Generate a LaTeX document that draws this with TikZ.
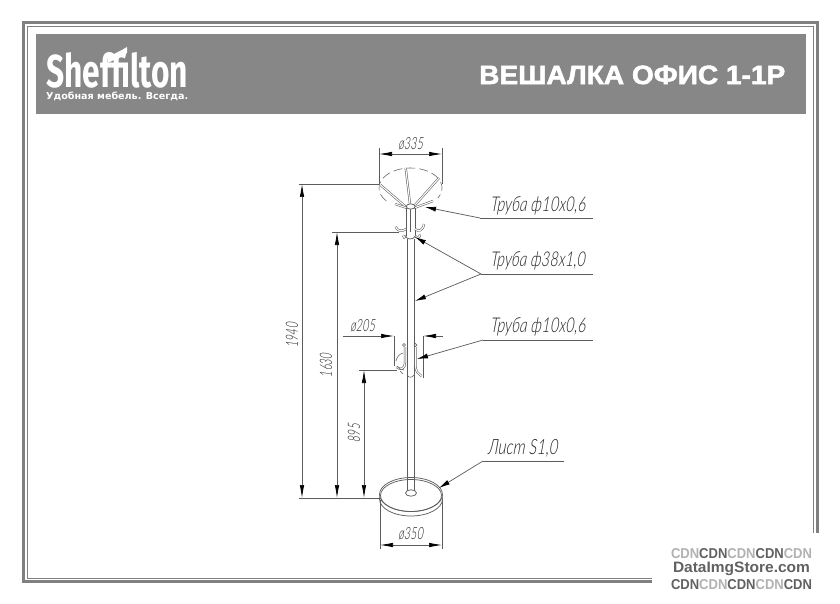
\documentclass[tikz,border=0pt]{standalone}
\usepackage{graphicx}
\usepackage{fontspec}
\setmainfont{Liberation Sans}
\newfontfamily\gostf[FakeSlant=0.12]{Lato Light Italic}
\newfontfamily\logof{Fira Sans}
\newfontfamily\tagf{DejaVu Sans}
\newfontfamily\ttlf[FakeBold=2]{Liberation Sans Bold}
\usetikzlibrary{arrows.meta}
\definecolor{hdr}{gray}{0.53}
\definecolor{frm}{gray}{0.5}
\definecolor{ink}{gray}{0.36}
\definecolor{wmd}{gray}{0.38}
\definecolor{wml}{gray}{0.70}
\newcommand{\gost}[3]{\resizebox{#1pt}{#2pt}{\gostf #3}}
\tikzset{
  x=1pt,y=-1pt,
  inkline/.style={draw=ink,line width=0.72pt},
  thin line/.style={draw=ink,line width=0.55pt},
  tube/.style={draw=ink,line width=0.55pt,double=white,double distance=1.1pt},
  dimtip/.style={inkline,-{Latex[length=13pt,width=4.5pt,black]}},
  leadertip/.style={inkline,-{Latex[length=11pt,width=5pt,black]}},
  label/.style={inner sep=0pt,outer sep=0pt,text=black!85},
  dashedarc/.style={draw=ink,line width=0.55pt,dash pattern=on 9pt off 4pt}
}
\begin{document}
\begin{tikzpicture}
\useasboundingbox (0,0) rectangle (840,604);
\fill[white] (0,0) rectangle (840,604);
% frame
\draw[frm,line width=3pt] (23.5,23) rectangle (817.5,581.5);
\draw[frm,line width=1pt] (27,26.5) rectangle (813.5,578);
% header
\fill[hdr] (36,34) rectangle (806,114);
\node[anchor=south west,inner sep=0pt,text=white] (logo) at (46,88) {\resizebox{142pt}{35pt}{\logof\bfseries Sheffilton}};
\fill[white] (108,57) -- (122,50) -- (127,47) -- (127,53) -- (114,60) -- (108,63) -- cycle;
\node[anchor=base west,inner sep=0pt,text=white] (tagline) at (46,100) {\resizebox{142pt}{7.5pt}{\tagf\bfseries Удобная мебель. Всегда.}};
\node[anchor=south west,inner sep=0pt,text=white] (title) at (479,84.5) {\resizebox{306pt}{18.5pt}{\ttlf ВЕШАЛКА ОФИС 1-1Р}};

% ---- coat stand: top
\draw[dashedarc] plot[smooth,domain=140:390,samples=60] ({410.5+31.5*cos(\x)},{188+20*sin(\x)});
\draw[tube] (380.5,185) -- (406,207);
\draw[tube] (405.7,168) -- (410,204);
\draw[tube] (439,178) -- (415,205);
\draw[tube] (433,201) -- (414,208);
\draw[tube] (395,204) -- (407,208);
\draw[inkline] (406,208) -- (406,236);
\draw[inkline] (410.7,208) -- (410.7,232);
\draw[inkline] (415,208) -- (415,236);
\draw[inkline,fill=white] (410.7,206.5) ellipse [x radius=4.5pt,y radius=2.6pt];
\draw[tube] (395.7,226.7) .. controls (397,231) and (402,232) .. (406,229);
\draw[tube] (424,224) .. controls (423,231) and (418,232) .. (415,229);
\draw[tube] (403,235.5) .. controls (403,238) and (405,238) .. (406,236);
\draw[tube] (420,234.5) .. controls (420,238) and (417,238) .. (415,236);
\draw[inkline] (405.5,236) .. controls (407,240) and (413,240) .. (415.5,236);
% pole
\draw[inkline] (407.7,239) -- (407.7,491);
\draw[inkline] (414,239) -- (414,491);
% lower hooks
\draw[thin line,fill=white] (404,345) circle [radius=1.4pt];
\draw[thin line,fill=white] (415.5,345) circle [radius=1.4pt];
\draw[tube] (405,347) -- (405,362) .. controls (405,370) and (400,370) .. (396.5,367);
\draw[tube] (415.5,347) -- (415.5,365) .. controls (415.5,372) and (418,373) .. (421.5,376);
\draw[thin line] (396,361) .. controls (397,357) and (399,354) .. (403,353);
\draw[thin line] (400,371) -- (403,374);
\draw[thin line] (407,375) .. controls (409,378) and (412,378) .. (414,375);
\draw[thin line] (397,366) .. controls (399,369) and (402,370) .. (404,370);

% ---- base
\draw[inkline,fill=white] (411,499) ellipse [x radius=31.5pt,y radius=17pt];
\draw[inkline,fill=white] (411,494.5) ellipse [x radius=31.5pt,y radius=17pt];
\draw[inkline] (411,495.5) ellipse [x radius=30.5pt,y radius=16pt];
\draw[inkline] (407.7,478) -- (407.7,491);
\draw[inkline] (414,478) -- (414,491);
\draw[inkline,fill=white] (411,493) ellipse [x radius=5.5pt,y radius=3.2pt];

% ---- dimensions
\coordinate (e335l) at (379,148);  \coordinate (e335lb) at (379,184);
\coordinate (e335r) at (442,148);  \coordinate (e335rb) at (442,184);
\coordinate (d335m1) at (398,154); \coordinate (d335m2) at (424,154);
\draw[inkline] (e335l) -- (e335lb);
\draw[inkline] (e335r) -- (e335rb);
\draw[dimtip] (d335m1) -- (379,154);
\draw[dimtip] (d335m2) -- (442,154);
\draw[inkline] (d335m1) -- (d335m2);
\node[label] (t335) at (411,144) {\gost{25}{12}{ø335}};

\coordinate (t1940) at (299,184);  \coordinate (b1940) at (299,498);
\draw[inkline] (t1940) -- (379,184);
\draw[inkline] (b1940) -- (380,498);
\draw[dimtip] (302,341) -- (302,184);
\draw[dimtip] (302,341) -- (302,498);
\node[label,rotate=90] (t1940l) at (292,335) {\gost{25}{12}{1940}};

\coordinate (t1630) at (332,232);
\draw[inkline] (t1630) -- (399,232);
\draw[dimtip] (337,365) -- (337,232);
\draw[dimtip] (337,365) -- (337,498);
\node[label,rotate=90] (t1630l) at (326,365) {\gost{24}{12}{1630}};

\coordinate (t895) at (359,370);
\draw[inkline] (t895) -- (397,370);
\draw[dimtip] (364,434) -- (364,370);
\draw[dimtip] (364,434) -- (364,498);
\node[label,rotate=90] (t895l) at (354,433) {\gost{19}{12}{895}};

\coordinate (e205l) at (394,336); \coordinate (e205lb) at (394,366);
\coordinate (e205r) at (423,336); \coordinate (e205rb) at (423,378);
\draw[inkline] (e205l) -- (e205lb);
\draw[inkline] (e205r) -- (e205rb);
\draw[dimtip] (343,336) -- (394,336);
\draw[dimtip] (443,336) -- (423,336);
\node[label] (t205) at (363,326) {\gost{25}{12}{ø205}};

\coordinate (e350l) at (380,500); \coordinate (e350lb) at (380,549);
\coordinate (e350r) at (442,500); \coordinate (e350rb) at (442,549);
\draw[inkline] (e350l) -- (e350lb);
\draw[inkline] (e350r) -- (e350rb);
\draw[dimtip] (411,545) -- (380,545);
\draw[dimtip] (411,545) -- (442,545);
\node[label] (t350) at (411,534) {\gost{25}{12}{ø350}};

% ---- leaders
\coordinate (la1) at (593,218); \coordinate (la2) at (480,218); \coordinate (la3) at (425,207);
\draw[inkline] (la1) -- (la2);
\draw[leadertip] (la2) -- (la3);
\node[label] (tr1) at (538,206) {\gost{95}{15}{Труба ф10х0,6}};

\coordinate (lb1) at (593,274); \coordinate (lb2) at (481,274);
\coordinate (lb3) at (415,237); \coordinate (lb4) at (415,301);
\draw[inkline] (lb1) -- (lb2);
\draw[leadertip] (lb2) -- (lb3);
\draw[leadertip] (lb2) -- (lb4);
\node[label] (tr2) at (538,261) {\gost{95}{15}{Труба ф38х1,0}};

\coordinate (lc1) at (593,340); \coordinate (lc2) at (483,340); \coordinate (lc3) at (417,359);
\draw[inkline] (lc1) -- (lc2);
\draw[leadertip] (lc2) -- (lc3);
\node[label] (tr3) at (538,327) {\gost{95}{15}{Труба ф10х0,6}};

\coordinate (ld1) at (564,461); \coordinate (ld2) at (483,461); \coordinate (ld3) at (439,488);
\draw[inkline] (ld1) -- (ld2);
\draw[leadertip] (ld2) -- (ld3);
\node[label] (tr4) at (523,448) {\gost{70}{15}{Лист S1,0}};

% ---- watermark
\fill[white] (652,533) rectangle (840,604);
\node[anchor=center,inner sep=0pt] (wm1) at (741.5,554) {\resizebox{141pt}{10pt}{\bfseries\textcolor{wml}{CDN}\textcolor{wmd}{CDN}\textcolor{wml}{CDN}\textcolor{wmd}{CDN}\textcolor{wml}{CDN}}};
\node[anchor=center,inner sep=0pt] (wm2) at (741.5,568.5) {\resizebox{137pt}{10.5pt}{\bfseries\textcolor{wmd}{DataImgStore.com}}};
\node[anchor=center,inner sep=0pt] (wm3) at (741.5,585) {\resizebox{141pt}{10pt}{\bfseries\textcolor{wmd}{CDN}\textcolor{wml}{CDN}\textcolor{wmd}{CDN}\textcolor{wml}{CDN}\textcolor{wmd}{CDN}}};
\end{tikzpicture}
\end{document}
